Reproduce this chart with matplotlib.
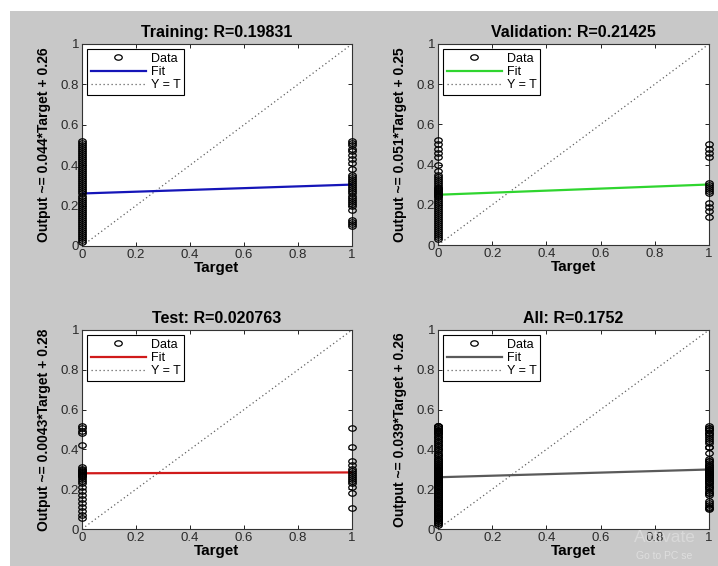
import numpy as np
import matplotlib
matplotlib.use("Agg")
import matplotlib.pyplot as plt
from matplotlib.path import Path
from matplotlib.patches import Rectangle

plt.rcParams['font.family'] = ['Liberation Sans', 'DejaVu Sans']

# ---- data ----
titles = ["Training: R=0.19831", "Validation: R=0.21425", "Test: R=0.020763", "All: R=0.1752"]
slopes = [0.044, 0.051, 0.0043, 0.039]
intercepts = [0.26, 0.25, 0.28, 0.26]
slope_text = ["0.044", "0.051", "0.0043", "0.039"]
fit_colors = ["#1515b8", "#2fd52f", "#d01a1a", "#5a5a5a"]

train_y0 = [0.52, 0.51, 0.50, 0.49, 0.48, 0.47, 0.46, 0.45, 0.44, 0.43, 0.42, 0.41,
            0.40, 0.39, 0.38, 0.37, 0.36, 0.35, 0.34, 0.33, 0.32, 0.31, 0.30, 0.29,
            0.28, 0.27, 0.26, 0.25, 0.24, 0.23, 0.22, 0.21, 0.20, 0.19, 0.18, 0.17,
            0.16, 0.15, 0.14, 0.13, 0.12, 0.11, 0.10, 0.09, 0.08, 0.07, 0.06, 0.05,
            0.04, 0.03, 0.02]
train_y1 = [0.52, 0.51, 0.50, 0.48, 0.47, 0.45, 0.43, 0.41, 0.38, 0.35, 0.34, 0.33,
            0.32, 0.31, 0.30, 0.29, 0.28, 0.27, 0.26, 0.25, 0.24, 0.23, 0.22, 0.21,
            0.20, 0.18, 0.13, 0.12, 0.11, 0.10]
val_y0 = [0.52, 0.50, 0.48, 0.46, 0.44, 0.40, 0.37, 0.35, 0.34, 0.33, 0.32, 0.31,
          0.30, 0.29, 0.285, 0.28, 0.275, 0.27, 0.265, 0.26, 0.255, 0.25, 0.245,
          0.24, 0.23, 0.22, 0.21, 0.20, 0.19, 0.18, 0.17, 0.16, 0.15, 0.14, 0.13,
          0.12, 0.11, 0.10, 0.09, 0.08, 0.07, 0.06, 0.05, 0.04, 0.03]
val_y1 = [0.50, 0.48, 0.46, 0.44, 0.31, 0.30, 0.29, 0.28, 0.27, 0.26, 0.21, 0.19,
          0.17, 0.14]
test_y0 = [0.52, 0.51, 0.49, 0.48, 0.42, 0.31, 0.30, 0.295, 0.29, 0.285, 0.28,
           0.275, 0.27, 0.265, 0.26, 0.25, 0.24, 0.23, 0.21, 0.19, 0.17, 0.15,
           0.13, 0.11, 0.09, 0.07, 0.055]
test_y1 = [0.51, 0.41, 0.34, 0.32, 0.30, 0.29, 0.28, 0.27, 0.26, 0.25, 0.24, 0.23,
           0.21, 0.18, 0.105]

all_y0 = train_y0 + val_y0 + test_y0
all_y1 = train_y1 + val_y1 + test_y1

groups = [(train_y0, train_y1), (val_y0, val_y1), (test_y0, test_y1), (all_y0, all_y1)]
ticks = [0, 0.2, 0.4, 0.6, 0.8, 1]
tick_labels = ["0", "0.2", "0.4", "0.6", "0.8", "1"]

# ---- figure ----
W, H = 718, 566
fig = plt.figure(figsize=(W / 100, H / 100), dpi=100, facecolor="white")
fig.patches.append(Rectangle((10 / W, 0), 1, 1 - 11 / H, transform=fig.transFigure,
                             facecolor="#c8c8c8", edgecolor="none", zorder=-10))

positions = [
    (82 / W, 1 - 246 / H, 270 / W, 202 / H),
    (438 / W, 1 - 245 / H, 271 / W, 201 / H),
    (82 / W, 1 - 529 / H, 270 / W, 199 / H),
    (438 / W, 1 - 529 / H, 271 / W, 199 / H),
]

circ = Path.unit_circle()
ell = Path(circ.vertices * np.array([1.0, 0.72]), circ.codes)

for i, ax_pos in enumerate(positions):
    ax = fig.add_axes(ax_pos)
    ax.set_facecolor("white")
    y0, y1 = groups[i]
    xs = [0] * len(y0) + [1] * len(y1)
    ys = list(y0) + list(y1)
    ax.plot(xs, ys, linestyle="none", marker=ell, markersize=5.4, markerfacecolor="none",
            markeredgecolor="black", markeredgewidth=0.9, clip_on=False, zorder=4, label="Data")
    fx = np.array([0, 1])
    ax.plot(fx, slopes[i] * fx + intercepts[i], color=fit_colors[i], lw=1.6, zorder=3, label="Fit")
    ax.plot([0, 1], [0, 1], linestyle=(0, (1, 2.2)), color="#606060", lw=0.9, zorder=2, label="Y = T")
    ax.set_xlim(0, 1)
    ax.set_ylim(0, 1)
    ax.set_xticks(ticks)
    ax.set_xticklabels(tick_labels)
    ax.set_yticks(ticks)
    ax.set_yticklabels(tick_labels)
    ax.tick_params(direction="in", length=3, width=0.6, top=True, right=True,
                   labelsize=9.5, labelcolor="#2a2a2a", pad=2)
    for s in ax.spines.values():
        s.set_color("#333333")
        s.set_linewidth(0.8)
    ax.set_title(titles[i], fontsize=11.5, fontweight="bold", pad=5)
    ax.set_xlabel("Target", fontsize=11, fontweight="bold", labelpad=0)
    ax.set_ylabel("Output ~= " + slope_text[i] + "*Target + " + f"{intercepts[i]:.2f}",
                  fontsize=10, fontweight="bold", labelpad=7)
    leg = ax.legend(loc="upper left", fontsize=9, frameon=True, fancybox=False,
                    edgecolor="black", framealpha=1, handlelength=4.4, handletextpad=0.4,
                    labelspacing=0.1, borderpad=0.3, borderaxespad=0.4, numpoints=1)
    leg.get_frame().set_linewidth(0.8)

fig.text(634 / W, 1 - 537 / H, "Activate", fontsize=12.5, color="#dcdcdc", alpha=0.85,
         va="center", ha="left")
fig.text(636 / W, 1 - 556 / H, "Go to PC se", fontsize=7.5,
         color="#e2e2e2", alpha=0.85, va="center", ha="left")

fig.savefig("out.png", dpi=100, facecolor=fig.get_facecolor())
